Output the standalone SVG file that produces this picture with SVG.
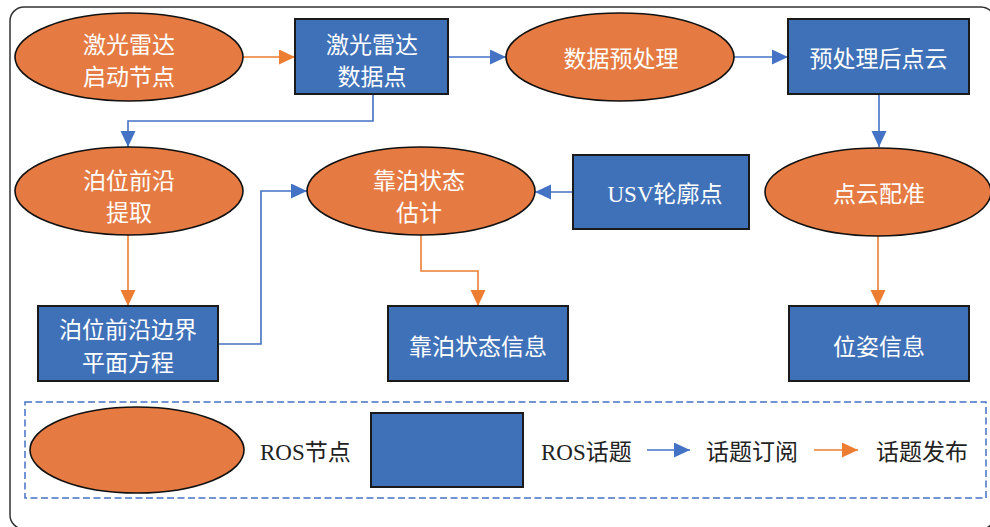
<svg xmlns="http://www.w3.org/2000/svg" width="990" height="527" viewBox="0 0 990 527">
<defs>
<style>
.node{fill:#E57B42;stroke:#111;stroke-width:1.6}
.topic{fill:#3F71B8;stroke:#1a1a1a;stroke-width:2}
.t{font-family:"Liberation Serif","Noto Sans CJK SC",serif;font-size:23px;fill:#fff;text-anchor:middle;dominant-baseline:central}
.lt{font-family:"Liberation Serif","Noto Sans CJK SC",serif;font-size:23px;fill:#222;dominant-baseline:central}
.sub{fill:none;stroke:#4472C4;stroke-width:1.6}
.pub{fill:none;stroke:#ED7D31;stroke-width:1.6}
</style>
<marker id="ab" markerUnits="userSpaceOnUse" markerWidth="16" markerHeight="16" refX="16" refY="7.5" orient="auto"><path d="M0,0 L16,7.5 L0,15 z" fill="#4472C4"/></marker>
<marker id="ao" markerUnits="userSpaceOnUse" markerWidth="16" markerHeight="16" refX="16" refY="7.5" orient="auto"><path d="M0,0 L16,7.5 L0,15 z" fill="#ED7D31"/></marker>
</defs>
<rect x="10" y="7" width="985" height="522" rx="14" fill="#fff" stroke="#333" stroke-width="1.5"/>

<g id="connectors">
<path class="pub" d="M243,57 H295" marker-end="url(#ao)"/>
<path class="sub" d="M448,57 H506" marker-end="url(#ab)"/>
<path class="sub" d="M734,57 H788" marker-end="url(#ab)"/>
<path class="sub" d="M879,94 V147" marker-end="url(#ab)"/>
<path class="sub" d="M373,94 V121 H128 V147" marker-end="url(#ab)"/>
<path class="pub" d="M128,235 V306" marker-end="url(#ao)"/>
<path class="sub" d="M218,344 H261 V191 H307" marker-end="url(#ab)"/>
<path class="sub" d="M573,192 H535" marker-end="url(#ab)"/>
<path class="pub" d="M421,235 V271 H478 V306" marker-end="url(#ao)"/>
<path class="pub" d="M878,236 V306" marker-end="url(#ao)"/>
</g>

<g id="n-lidar-start"><ellipse class="node" cx="129" cy="57" rx="114" ry="44"/><text class="t" x="129" y="45">激光雷达</text><text class="t" x="129" y="77">启动节点</text></g>
<g id="t-lidar-points"><rect class="topic" x="295" y="19" width="153" height="75"/><text class="t" x="372" y="45">激光雷达</text><text class="t" x="372" y="77">数据点</text></g>
<g id="n-preprocess"><ellipse class="node" cx="620" cy="57" rx="114" ry="44"/><text class="t" x="621" y="59">数据预处理</text></g>
<g id="t-pre-cloud"><rect class="topic" x="788" y="19" width="181" height="75"/><text class="t" x="878.5" y="59">预处理后点云</text></g>
<g id="n-berth-extract"><ellipse class="node" cx="129" cy="191" rx="114" ry="44"/><text class="t" x="129" y="181">泊位前沿</text><text class="t" x="129" y="213">提取</text></g>
<g id="n-state-est"><ellipse class="node" cx="421" cy="191" rx="114" ry="44"/><text class="t" x="419" y="181">靠泊状态</text><text class="t" x="419" y="213">估计</text></g>
<g id="t-usv"><rect class="topic" x="573" y="155" width="176" height="74"/><text class="t" x="665" y="194">USV轮廓点</text></g>
<g id="n-registration"><ellipse class="node" cx="878" cy="192" rx="113" ry="44"/><text class="t" x="879" y="194">点云配准</text></g>
<g id="t-plane"><rect class="topic" x="38" y="306" width="180" height="75"/><text class="t" x="128" y="330">泊位前沿边界</text><text class="t" x="128" y="363">平面方程</text></g>
<g id="t-state-info"><rect class="topic" x="388" y="306" width="180" height="75"/><text class="t" x="478" y="347">靠泊状态信息</text></g>
<g id="t-pose"><rect class="topic" x="789" y="306" width="180" height="75"/><text class="t" x="879" y="347">位姿信息</text></g>

<g id="legend">
<rect x="25" y="402" width="961" height="96" fill="none" stroke="#4472C4" stroke-width="1.5" stroke-dasharray="7,3.5"/>
<ellipse class="node" cx="137" cy="450" rx="107" ry="43"/>
<text class="lt" x="260" y="452">ROS节点</text>
<rect class="topic" x="371" y="413" width="152" height="74"/>
<text class="lt" x="541" y="452">ROS话题</text>
<path class="sub" d="M647,450 H690" marker-end="url(#ab)"/>
<text class="lt" x="706" y="452">话题订阅</text>
<path class="pub" d="M814,450 H858" marker-end="url(#ao)"/>
<text class="lt" x="876" y="452">话题发布</text>
</g>
</svg>
